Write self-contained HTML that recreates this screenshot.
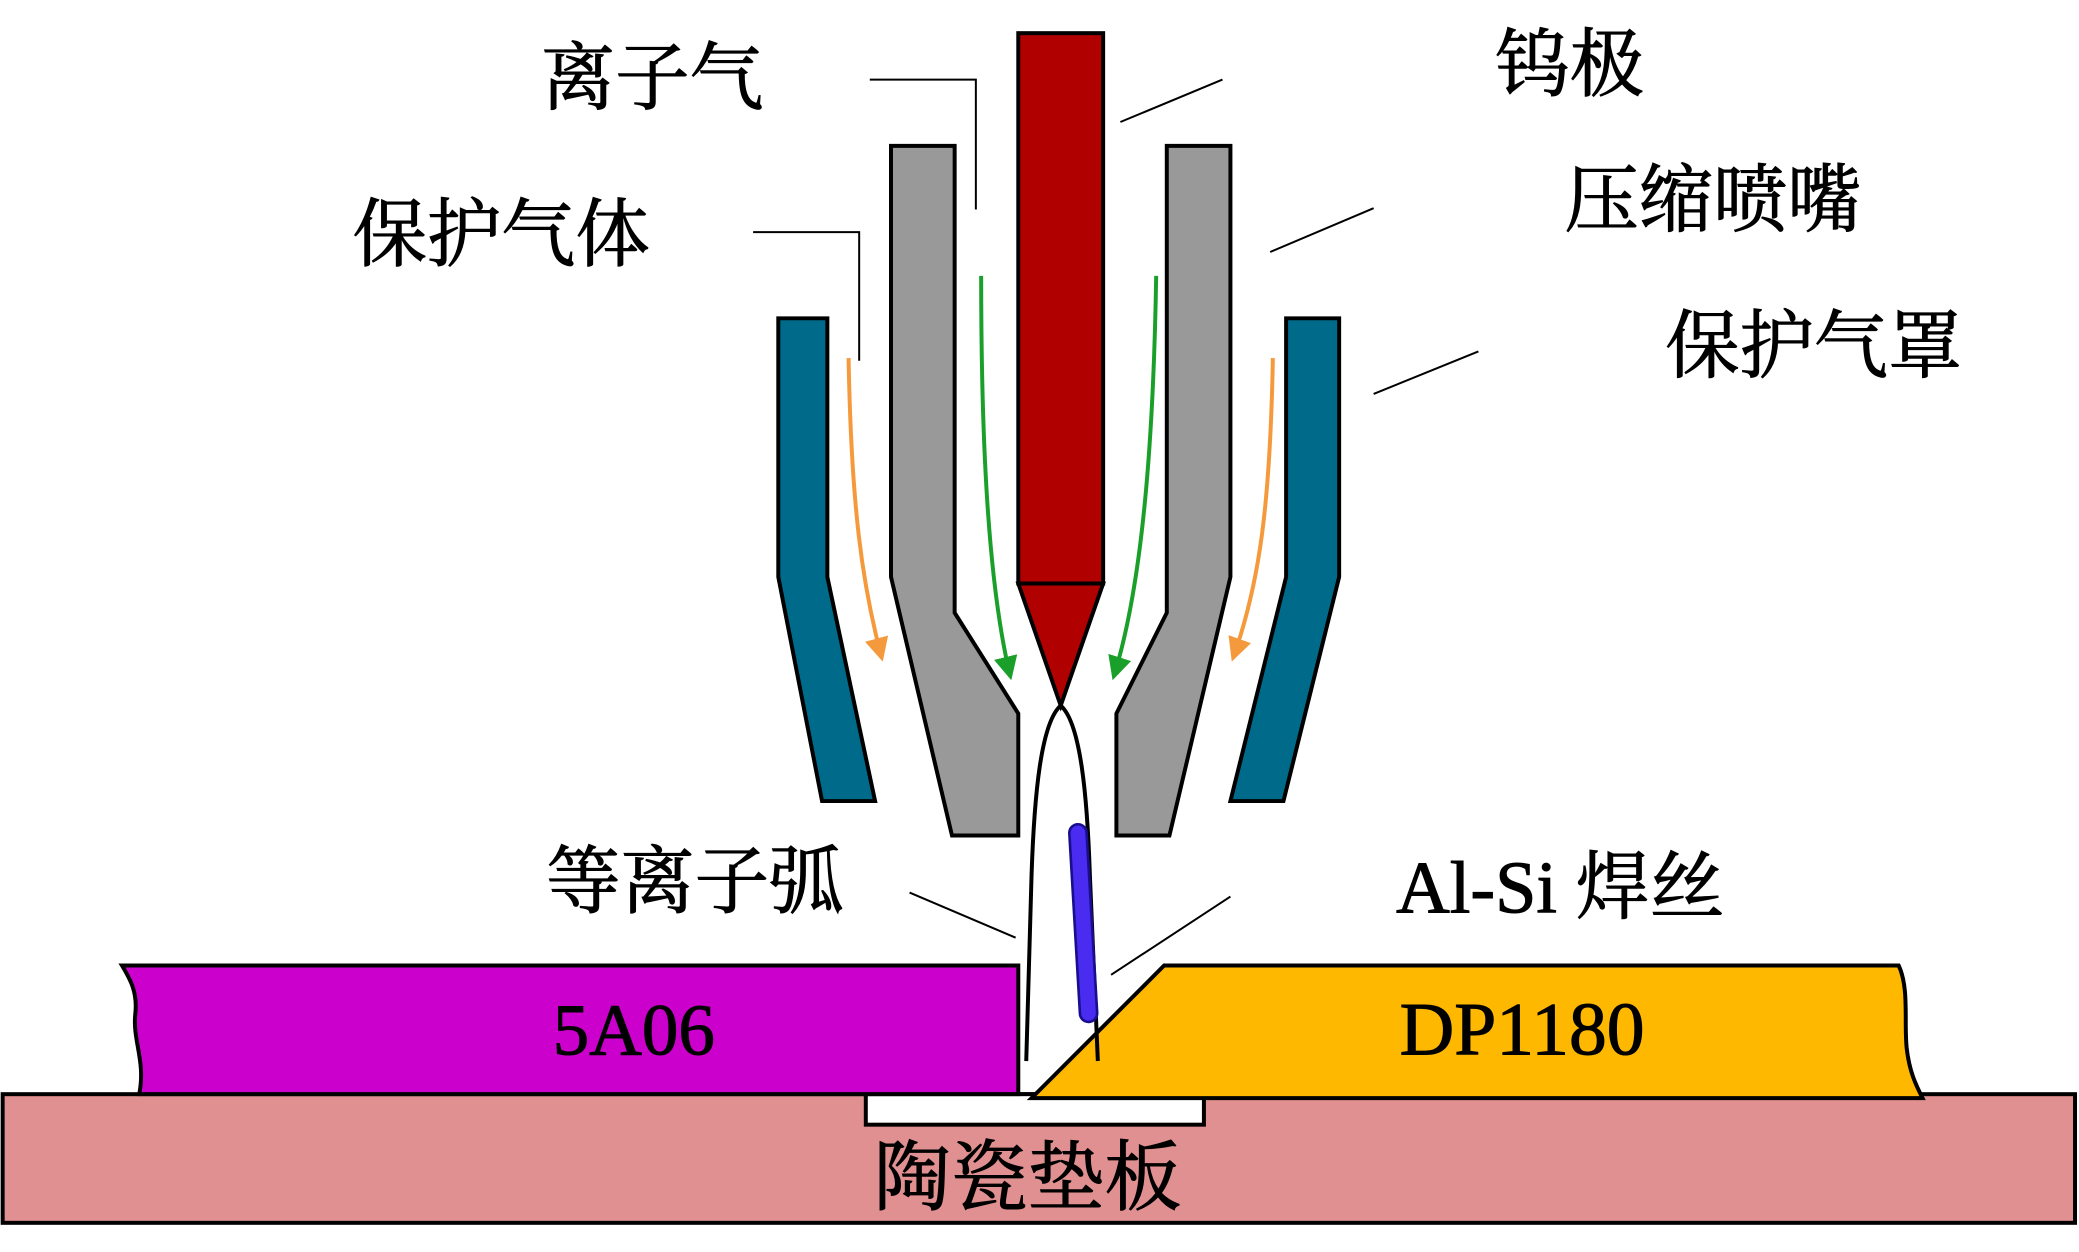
<!DOCTYPE html>
<html><head><meta charset="utf-8"><style>html,body{margin:0;padding:0;background:#fff}svg{display:block}</style></head>
<body>
<svg width="2079" height="1252" viewBox="0 0 1568 944" preserveAspectRatio="none" xmlns="http://www.w3.org/2000/svg">
<defs>
<marker id="ao" markerWidth="6" markerHeight="6" refX="5" refY="3" orient="auto" markerUnits="strokeWidth"><path d="M0,0 L6,3 L0,6 Z" fill="#f59a3c"/></marker>
<marker id="ag" markerWidth="6" markerHeight="6" refX="5" refY="3" orient="auto" markerUnits="strokeWidth"><path d="M0,0 L6,3 L0,6 Z" fill="#1aa02a"/></marker>
</defs>
<g stroke="#000" stroke-width="3" stroke-linejoin="miter">
<rect x="2" y="825" width="1563" height="97" fill="#e09090"/>
<rect x="653" y="825" width="255" height="23" fill="#fff"/>
<path d="M92,728 L768,728 L768,825 L105,825 C110,800 100,785 102,765 C104,748 98,738 92,728 Z" fill="#cc00cc"/>
<path d="M778,828 L878,728 L1432,728 C1440,745 1436,770 1438,790 C1440,808 1445,818 1450,828 Z" fill="#ffb800"/>
<path d="M587,240 L624,240 L624,435 L660,604 L620,604 L587,435 Z" fill="#006a8a"/>
<path d="M970,240 L1010,240 L1010,435 L968,604 L928,604 L970,435 Z" fill="#006a8a"/>
<path d="M672,110 L720,110 L720,462 L768,538 L768,630 L718,630 L672,435 Z" fill="#999"/>
<path d="M880,110 L928,110 L928,435 L882,630 L842,630 L842,538 L880,462 Z" fill="#999"/>
<rect x="768" y="25" width="64" height="415" fill="#b00000"/>
<path d="M768,440 L832,440 L800,532 Z" fill="#b00000"/>
<path d="M800,532 C785,545 780,600 778,660 L774,800 M800,532 C815,545 820,600 822,660 L828,800" fill="none"/>
</g>
<line x1="813" y1="628" x2="821" y2="764" stroke="#1a0e90" stroke-width="15" stroke-linecap="round"/>
<line x1="813" y1="628" x2="821" y2="764" stroke="#4a2cf0" stroke-width="11" stroke-linecap="round"/>
<g fill="none" stroke-width="3">
<path d="M640,270 C642,380 650,440 665,496" stroke="#f59a3c" marker-end="url(#ao)"/>
<path d="M960,270 C958,380 950,440 930,496" stroke="#f59a3c" marker-end="url(#ao)"/>
<path d="M740,208 C740,330 745,440 762,510" stroke="#1aa02a" marker-end="url(#ag)"/>
<path d="M872,208 C870,330 862,440 840,510" stroke="#1aa02a" marker-end="url(#ag)"/>
</g>
<g stroke="#000" stroke-width="1.5" fill="none">
<path d="M656,60 L736,60 L736,158"/>
<path d="M568,175 L648,175 L648,272"/>
<path d="M845,92 L922,60"/>
<path d="M958,190 L1036,157"/>
<path d="M1036,297 L1115,265"/>
<path d="M686,673 L766,707"/>
<path d="M838,735 L928,676"/>
</g>
<g font-family="'Liberation Serif','Noto Serif CJK SC','Noto Sans CJK SC',serif" fill="#000" stroke="#000" stroke-width="0.8" font-size="56">
<text x="408" y="78">离子气</text>
<text x="1128" y="68">钨极</text>
<text x="266" y="196">保护气体</text>
<text x="1180" y="170">压缩喷嘴</text>
<text x="1256" y="280">保护气罩</text>
<text x="412" y="684">等离子弧</text>
<text x="1053" y="688">Al-Si 焊丝</text>
<text x="478" y="795" text-anchor="middle" font-size="55">5A06</text>
<text x="1148" y="795" text-anchor="middle" font-size="57">DP1180</text>
<text x="775" y="908" text-anchor="middle" font-size="58">陶瓷垫板</text>
</g>
</svg>
</body></html>
